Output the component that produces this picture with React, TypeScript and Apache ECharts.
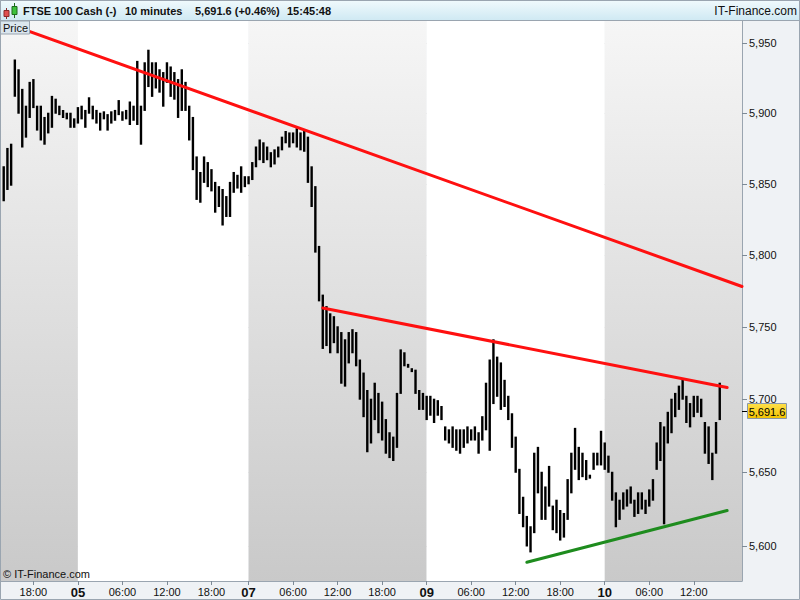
import React, { useEffect, useRef } from 'react';
import * as echarts from 'echarts';

// ---- x axis structure: trading days and their half-hour slots ----
const dayLabels = ['04', '05', '07', '09', '10'];
const dayFirstSlot = [27, 0, 0, 0, 0]; // half-hour slot number of first bar
const dayLastSlot = [47, 45, 47, 47, 37];
const shadedDays = ['04', '07', '10'];

// ---- price bars (30-minute high / low), starting at category index 1 ----
const firstBarIndex = 1;
const highs = [
  5862, 5875, 5878, 5938, 5931, 5917, 5905, 5922, 5924, 5905,
  5905, 5897, 5900, 5912, 5910, 5905, 5902, 5900, 5900, 5896,
  5904, 5905, 5902, 5911, 5905, 5902, 5900, 5901, 5899, 5901,
  5902, 5909, 5901, 5902, 5908, 5905, 5937, 5905, 5936, 5945,
  5936, 5936, 5931, 5929, 5936, 5933, 5929, 5924, 5931, 5922,
  5905, 5897, 5869, 5858, 5869, 5865, 5860, 5851, 5848, 5846,
  5841, 5851, 5858, 5856, 5862, 5855, 5855, 5865, 5876, 5881,
  5879, 5876, 5872, 5874, 5876, 5883, 5887, 5886, 5886, 5889,
  5886, 5887, 5883, 5862, 5848, 5806, 5772, 5764, 5759, 5757,
  5750, 5746, 5741, 5746, 5748, 5746, 5727, 5718, 5706, 5700,
  5711, 5704, 5698, 5686, 5677, 5674, 5704, 5734, 5732, 5724,
  5721, 5720, 5706, 5704, 5702, 5702, 5700, 5699, 5695, 5681,
  5679, 5681, 5679, 5679, 5679, 5681, 5679, 5681, 5677, 5688,
  5711, 5727, 5741, 5729, 5725, 5713, 5702, 5690, 5674, 5652,
  5633, 5620, 5613, 5663, 5667, 5650, 5640, 5654, 5627, 5631,
  5624, 5622, 5645, 5663, 5680, 5667, 5663, 5658, 5648, 5663,
  5663, 5678, 5670, 5661, 5650, 5636, 5631, 5636, 5638, 5640,
  5631, 5636, 5636, 5631, 5638, 5645, 5670, 5684, 5681, 5691,
  5700, 5704, 5709, 5713, 5702, 5697, 5702, 5702, 5700, 5684,
  5681, 5663, 5684, 5711,
];
const lows = [
  5838, 5846, 5849, 5912, 5900, 5876, 5883, 5897, 5904, 5888,
  5881, 5878, 5886, 5890, 5900, 5899, 5897, 5896, 5890, 5890,
  5893, 5896, 5890, 5900, 5896, 5893, 5888, 5896, 5888, 5893,
  5895, 5899, 5895, 5896, 5892, 5895, 5892, 5878, 5902, 5919,
  5912, 5918, 5915, 5905, 5922, 5912, 5910, 5897, 5902, 5902,
  5881, 5860, 5839, 5837, 5851, 5848, 5845, 5830, 5834, 5821,
  5827, 5827, 5844, 5847, 5844, 5848, 5850, 5853, 5862, 5867,
  5865, 5867, 5862, 5864, 5869, 5874, 5879, 5876, 5879, 5876,
  5874, 5873, 5851, 5834, 5802, 5768, 5735, 5737, 5732, 5739,
  5732, 5711, 5709, 5725, 5732, 5723, 5700, 5688, 5664, 5670,
  5686, 5677, 5672, 5663, 5660, 5658, 5667, 5704, 5723, 5722,
  5719, 5704, 5693, 5693, 5686, 5689, 5684, 5689, 5686, 5672,
  5670, 5667, 5665, 5663, 5667, 5670, 5672, 5672, 5663, 5672,
  5679, 5665, 5697, 5702, 5693, 5695, 5686, 5667, 5650, 5622,
  5613, 5600, 5596, 5609, 5636, 5618, 5618, 5627, 5611, 5609,
  5604, 5606, 5618, 5636, 5652, 5645, 5647, 5645, 5646, 5652,
  5655, 5655, 5652, 5650, 5631, 5613, 5618, 5625, 5627, 5629,
  5620, 5622, 5625, 5622, 5627, 5631, 5652, 5658, 5615, 5670,
  5677, 5688, 5693, 5700, 5684, 5681, 5688, 5691, 5688, 5663,
  5656, 5645, 5663, 5686,
];
const lastPrice = 5691.6;
const lastChange = '+0.46%';
const lastTime = '15:45:48';

// ---- y axis ----
const yTicks = [5600, 5650, 5700, 5750, 5800, 5850, 5900, 5950];
const yMin = 5576.4;
const yMax = 5966.7;

// ---- trend lines: [category index, price] ----
const upperTrend = [[0, 5966], [200, 5778]];
const middleTrend = [[87, 5763], [196, 5708]];
const supportTrend = [[142, 5589], [196, 5624]];

const FONT = '"Liberation Sans", Arial, sans-serif';

function fmt(v: number, digits = 0) {
  const s = v.toFixed(digits);
  const [a, b] = s.split('.');
  const withSep = a.replace(/\B(?=(\d{3})+(?!\d))/g, ',');
  return b ? withSep + '.' + b : withSep;
}

export default function App() {
  const ref = useRef<HTMLDivElement>(null);

  useEffect(() => {
    document.body.style.margin = '0';
    if (!ref.current) return;
    const chart = echarts.init(ref.current, undefined, { renderer: 'svg' });

    const categories: string[] = [];
    const dayStart: Record<string, number> = {};
    const dayEnd: Record<string, number> = {};
    dayLabels.forEach((d, k) => {
      dayStart[d] = categories.length;
      for (let s = dayFirstSlot[k]; s <= dayLastSlot[k]; s++) {
        const h = String(Math.floor(s / 2)).padStart(2, '0');
        const m = s % 2 ? '30' : '00';
        categories.push(`${d} ${h}:${m}`);
      }
    });
    dayLabels.forEach((d, k) => {
      dayEnd[d] = k + 1 < dayLabels.length ? dayStart[dayLabels[k + 1]] : categories.length - 1;
    });

    const bands = dayLabels.map((d) => {
      const shaded = shadedDays.includes(d);
      return [
        {
          xAxis: categories[dayStart[d]],
          itemStyle: {
            color: shaded
              ? {
                  type: 'linear', x: 0, y: 0, x2: 0, y2: 1,
                  colorStops: [
                    { offset: 0, color: '#f6f6f6' },
                    { offset: 1, color: '#c9c9c9' },
                  ],
                }
              : '#ffffff',
          },
        },
        { xAxis: categories[dayEnd[d]] },
      ];
    });

    const lastDataIndex = firstBarIndex + highs.length - 1;
    const isLabelled = (i: number, v: string) => {
      const t = v.split(' ')[1];
      return i <= lastDataIndex && t.endsWith(':00') && ['00', '06', '12', '18'].includes(t.slice(0, 2));
    };

    const barData = highs.map((h, i) => [firstBarIndex + i, h, lows[i]]);
    const toLine = (pts: number[][]) => pts.map((p) => [categories[p[0]], p[1]]);

    const option: any = {
      animation: false,
      backgroundColor: '#eff2f5',
      grid: { left: 0, top: 20, right: 58, bottom: 19 },
      xAxis: {
        type: 'category',
        data: categories,
        boundaryGap: false,
        z: 1,
        axisLine: { show: true, lineStyle: { color: '#9aa5b0', width: 1 } },
        axisTick: { show: true, interval: isLabelled, length: 4, lineStyle: { color: '#7d8a96' } },
        axisLabel: {
          interval: isLabelled,
          margin: 5,
          fontSize: 11,
          fontFamily: FONT,
          color: '#111',
          formatter: (v: string) => {
            const [d, t] = v.split(' ');
            return t === '00:00' ? `{day|${d}}` : t;
          },
          rich: { day: { fontWeight: 'bold', fontSize: 13, fontFamily: FONT, color: '#111' } },
        },
        splitLine: { show: false },
      },
      yAxis: {
        type: 'log',
        logBase: 10,
        min: yMin,
        max: yMax,
        position: 'right',
        z: 1,
        axisLine: { show: true, lineStyle: { color: '#9aa5b0' } },
        axisTick: { show: true, customValues: yTicks, length: 5, lineStyle: { color: '#7d8a96' } },
        axisLabel: {
          customValues: yTicks,
          formatter: (v: number) => fmt(v),
          fontSize: 11,
          fontFamily: FONT,
          color: '#111',
          margin: 7,
        },
        splitLine: { show: true, lineStyle: { color: 'rgba(0,0,0,0.15)', width: 1 } },
      },
      series: [
        {
          type: 'line',
          data: [],
          z: 0,
          silent: true,
          markArea: { silent: true, data: bands },
        },
        {
          type: 'custom',
          z: 2,
          silent: true,
          data: barData,
          encode: { x: 0, y: [1, 2] },
          renderItem: (_p: any, api: any) => {
            const x = api.value(0);
            const a = api.coord([x, api.value(1)]);
            const b = api.coord([x, api.value(2)]);
            return {
              type: 'rect',
              shape: { x: a[0] - 1.2, y: a[1] - 0.5, width: 2.4, height: b[1] - a[1] + 1 },
              style: { fill: '#000' },
            };
          },
        },
        {
          type: 'line', z: 3, silent: true, symbol: 'none',
          data: toLine(upperTrend),
          lineStyle: { color: '#ff1010', width: 3, cap: 'round' },
        },
        {
          type: 'line', z: 3, silent: true, symbol: 'none',
          data: toLine(middleTrend),
          lineStyle: { color: '#ff1010', width: 3, cap: 'round' },
        },
        {
          type: 'line', z: 3, silent: true, symbol: 'none',
          data: toLine(supportTrend),
          lineStyle: { color: '#1e8c1e', width: 3, cap: 'round' },
        },
      ],
      graphic: [
        {
          type: 'rect', z: 10, silent: true,
          shape: { x: 0, y: 0, width: 800, height: 20.5 },
          style: {
            fill: {
              type: 'linear', x: 0, y: 0, x2: 0, y2: 1,
              colorStops: [
                { offset: 0, color: '#f1fafd' },
                { offset: 1, color: '#cfe9f3' },
              ],
            },
            stroke: '#9aa5b0', lineWidth: 1,
          },
        },
        // candle icon
        { type: 'line', z: 11, shape: { x1: 6.5, y1: 8, x2: 6.5, y2: 19 }, style: { stroke: '#8a2a2a', lineWidth: 1 } },
        { type: 'rect', z: 11, shape: { x: 4, y: 10.5, width: 5, height: 6 }, style: { fill: '#e0504f', stroke: '#8a2a2a', lineWidth: 1 } },
        { type: 'line', z: 11, shape: { x1: 14.5, y1: 3, x2: 14.5, y2: 18 }, style: { stroke: '#1d6b1d', lineWidth: 1 } },
        { type: 'rect', z: 11, shape: { x: 12, y: 6.5, width: 5, height: 8 }, style: { fill: '#3cc23c', stroke: '#1d6b1d', lineWidth: 1 } },
        {
          type: 'text', z: 11, x: 23, y: 11,
          style: { text: 'FTSE 100 Cash (-)', font: `bold 11px ${FONT}`, fill: '#111', verticalAlign: 'middle' },
        },
        {
          type: 'text', z: 11, x: 125, y: 11,
          style: { text: '10 minutes', font: `bold 11px ${FONT}`, fill: '#111', verticalAlign: 'middle' },
        },
        {
          type: 'text', z: 11, x: 195, y: 11,
          style: { text: `${fmt(lastPrice, 1)} (${lastChange})`, font: `bold 11px ${FONT}`, fill: '#111', verticalAlign: 'middle' },
        },
        {
          type: 'text', z: 11, x: 287, y: 11,
          style: { text: lastTime, font: `bold 11px ${FONT}`, fill: '#111', verticalAlign: 'middle' },
        },
        {
          type: 'text', z: 11, x: 797, y: 11,
          style: { text: 'IT-Finance.com', font: `12px ${FONT}`, fill: '#111', align: 'right', verticalAlign: 'middle' },
        },
        // Price tag
        {
          type: 'rect', z: 11, silent: true,
          shape: { x: 0.5, y: 21, width: 29, height: 13 },
          style: { fill: '#dbe6ee', stroke: '#9aa5b0', lineWidth: 1 },
        },
        {
          type: 'text', z: 12, x: 3, y: 27.5,
          style: { text: 'Price', font: `11px ${FONT}`, fill: '#111', verticalAlign: 'middle' },
        },
        {
          type: 'text', z: 11, x: 3, y: 574,
          style: { text: '© IT-Finance.com', font: `11px ${FONT}`, fill: '#111', verticalAlign: 'middle' },
        },
        // outer border
        {
          type: 'rect', z: 12, silent: true,
          shape: { x: 0.5, y: 0.5, width: 799, height: 599 },
          style: { fill: 'none', stroke: '#9aa5b0', lineWidth: 1 },
        },
      ],
    };

    chart.setOption(option);

    // last-price tag on the price axis, placed through the axis scale
    const yPix = Math.round(chart.convertToPixel({ yAxisIndex: 0 }, lastPrice) as number);
    chart.setOption({
      graphic: [
        ...option.graphic,
        {
          type: 'line', z: 11,
          shape: { x1: 742, y1: yPix + 0.5, x2: 747, y2: yPix + 0.5 },
          style: { stroke: '#000', lineWidth: 1 },
        },
        {
          type: 'rect', z: 11, silent: true,
          shape: { x: 747.5, y: yPix - 7.5, width: 39, height: 15 },
          style: {
            fill: {
              type: 'linear', x: 0, y: 0, x2: 0, y2: 1,
              colorStops: [
                { offset: 0, color: '#ffe04a' },
                { offset: 1, color: '#f2c200' },
              ],
            },
            stroke: '#8a98a6', lineWidth: 1,
          },
        },
        {
          type: 'text', z: 12, x: 767, y: yPix + 0.5,
          style: { text: fmt(lastPrice, 1), font: `11px ${FONT}`, fill: '#000', align: 'center', verticalAlign: 'middle' },
        },
      ],
    });

    return () => chart.dispose();
  }, []);

  return <div ref={ref} style={{ width: 800, height: 600, position: 'absolute', left: 0, top: 0 }} />;
}
